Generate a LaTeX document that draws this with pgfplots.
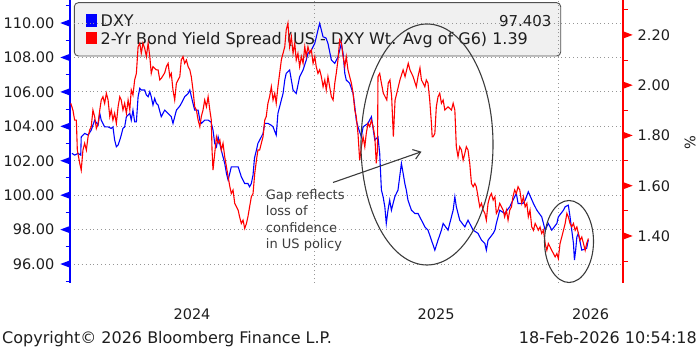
\documentclass[border=0pt]{standalone}
\usepackage{fontspec}
\setmainfont{DejaVu Sans}
\usepackage{pgfplots}
\usepackage{pgfplotstable}
\pgfplotsset{compat=1.18}
\usetikzlibrary{arrows.meta}

\definecolor{bbblue}{RGB}{0,0,255}
\definecolor{bbred}{RGB}{255,0,0}
\definecolor{gridc}{RGB}{150,150,150}
\definecolor{txt}{RGB}{30,30,30}
\definecolor{legfill}{RGB}{240,240,240}
\definecolor{legdraw}{RGB}{80,80,80}
\definecolor{annot}{RGB}{60,60,60}

\pgfplotstableread{
x y
2024.008 102.43
2024.019 102.33
2024.033 102.43
2024.044 102.33
2024.046 103.39
2024.060 103.59
2024.074 103.49
2024.087 103.78
2024.101 104.36
2024.115 104.07
2024.122 104.75
2024.128 104.36
2024.142 103.97
2024.156 103.97
2024.169 103.88
2024.176 103.97
2024.183 103.20
2024.190 102.81
2024.197 102.91
2024.204 103.20
2024.210 103.49
2024.217 103.88
2024.224 103.97
2024.231 104.56
2024.245 104.75
2024.251 104.36
2024.258 104.94
2024.265 104.26
2024.272 104.26
2024.279 105.72
2024.286 106.21
2024.292 106.11
2024.306 106.11
2024.313 105.82
2024.320 105.72
2024.327 106.01
2024.333 105.72
2024.340 105.24
2024.347 105.62
2024.354 105.33
2024.361 105.24
2024.374 104.56
2024.388 104.94
2024.402 104.75
2024.415 104.56
2024.422 104.17
2024.436 104.94
2024.450 105.18
2024.456 105.33
2024.470 105.72
2024.484 105.91
2024.491 106.11
2024.504 105.33
2024.511 104.94
2024.525 104.94
2024.532 104.36
2024.538 104.17
2024.552 104.36
2024.566 104.36
2024.578 104.25
2024.586 103.78
2024.593 103.01
2024.600 102.81
2024.607 103.39
2024.620 102.62
2024.627 102.23
2024.634 101.85
2024.641 101.27
2024.648 100.88
2024.661 101.65
2024.675 101.65
2024.689 101.65
2024.702 101.07
2024.716 100.68
2024.729 100.68
2024.736 100.49
2024.743 100.68
2024.750 101.17
2024.756 102.16
2024.764 102.62
2024.770 103.01
2024.784 103.39
2024.791 103.59
2024.798 104.17
2024.811 104.17
2024.824 104.07
2024.832 103.97
2024.845 103.49
2024.852 104.75
2024.859 105.14
2024.866 105.53
2024.873 105.91
2024.880 106.69
2024.886 107.08
2024.900 107.27
2024.907 106.69
2024.914 106.11
2024.927 105.91
2024.941 106.88
2024.955 107.27
2024.968 107.85
2024.975 108.24
2024.989 108.43
2025.003 108.82
2025.016 109.59
2025.023 109.98
2025.037 109.20
2025.049 109.13
2025.057 108.82
2025.071 107.85
2025.085 107.66
2025.098 108.04
2025.112 108.82
2025.119 108.24
2025.126 107.08
2025.132 106.69
2025.146 106.50
2025.160 105.91
2025.167 105.14
2025.173 104.36
2025.180 103.97
2025.194 103.39
2025.201 103.97
2025.221 104.17
2025.235 104.56
2025.249 103.20
2025.262 103.39
2025.269 102.43
2025.276 100.30
2025.283 99.91
2025.290 99.33
2025.296 98.36
2025.303 99.13
2025.310 99.71
2025.317 99.13
2025.331 99.91
2025.344 100.30
2025.358 101.85
2025.365 101.27
2025.372 100.68
2025.378 100.30
2025.385 99.71
2025.399 99.13
2025.413 98.94
2025.426 98.94
2025.447 98.36
2025.454 98.16
2025.467 97.97
2025.481 97.39
2025.495 96.81
2025.508 97.39
2025.522 97.97
2025.529 98.36
2025.549 97.97
2025.570 99.13
2025.577 99.91
2025.583 99.33
2025.597 98.55
2025.618 98.16
2025.631 98.55
2025.652 97.97
2025.672 97.78
2025.686 97.39
2025.700 97.20
2025.706 96.81
2025.713 97.39
2025.734 97.78
2025.741 97.97
2025.747 98.36
2025.754 98.74
2025.761 99.13
2025.781 98.94
2025.802 99.33
2025.815 99.71
2025.822 99.91
2025.829 100.10
2025.836 99.52
2025.856 99.52
2025.865 99.71
2025.878 100.20
2025.899 99.52
2025.913 99.13
2025.933 98.74
2025.940 98.36
2025.947 97.97
2025.960 98.36
2025.974 97.97
2025.995 98.36
2026.001 98.74
2026.022 99.13
2026.029 99.33
2026.042 99.42
2026.049 98.74
2026.056 97.97
2026.063 97.20
2026.067 96.23
2026.072 96.81
2026.077 97.58
2026.083 97.78
2026.097 96.81
2026.117 96.91
2026.124 97.403
}\dxy

\pgfplotstableread{
x y
2024.003 1.928
2024.012 1.901
2024.019 1.861
2024.026 1.861
2024.030 1.742
2024.040 1.689
2024.046 1.662
2024.053 1.742
2024.060 1.769
2024.067 1.742
2024.074 1.795
2024.081 1.822
2024.087 1.835
2024.094 1.901
2024.101 1.875
2024.108 1.828
2024.115 1.848
2024.122 1.901
2024.128 1.941
2024.135 1.954
2024.142 1.928
2024.149 1.968
2024.156 1.941
2024.163 1.875
2024.169 1.901
2024.176 1.861
2024.183 1.888
2024.190 1.848
2024.197 1.914
2024.204 1.954
2024.210 1.941
2024.217 1.901
2024.224 1.928
2024.231 1.888
2024.238 1.941
2024.245 1.901
2024.251 1.981
2024.258 1.961
2024.265 2.021
2024.272 2.047
2024.279 2.153
2024.286 2.167
2024.292 2.127
2024.299 2.167
2024.306 2.147
2024.313 2.114
2024.320 2.167
2024.327 2.114
2024.333 2.047
2024.340 2.074
2024.347 2.067
2024.354 2.061
2024.361 2.061
2024.368 2.021
2024.374 2.027
2024.388 2.049
2024.395 2.074
2024.402 2.087
2024.409 2.034
2024.415 2.047
2024.422 1.981
2024.429 1.941
2024.436 2.008
2024.443 2.021
2024.450 2.034
2024.456 2.100
2024.463 2.114
2024.470 2.087
2024.477 2.100
2024.484 2.074
2024.491 2.061
2024.497 2.034
2024.504 1.981
2024.511 1.914
2024.518 1.901
2024.525 1.861
2024.532 1.835
2024.538 1.875
2024.545 1.901
2024.552 1.941
2024.559 1.914
2024.566 1.954
2024.573 1.901
2024.579 1.861
2024.582 1.742
2024.586 1.662
2024.593 1.729
2024.600 1.795
2024.607 1.769
2024.614 1.782
2024.620 1.742
2024.627 1.769
2024.634 1.715
2024.641 1.675
2024.648 1.636
2024.655 1.596
2024.661 1.569
2024.668 1.583
2024.675 1.530
2024.682 1.516
2024.689 1.503
2024.695 1.476
2024.702 1.450
2024.709 1.463
2024.716 1.430
2024.723 1.450
2024.729 1.476
2024.736 1.516
2024.743 1.556
2024.750 1.569
2024.757 1.649
2024.764 1.702
2024.770 1.742
2024.777 1.742
2024.784 1.769
2024.791 1.795
2024.798 1.861
2024.804 1.875
2024.811 1.928
2024.818 1.954
2024.825 1.994
2024.832 1.941
2024.839 1.968
2024.845 1.928
2024.852 1.994
2024.859 2.047
2024.866 2.100
2024.873 2.127
2024.880 2.153
2024.886 2.220
2024.893 2.247
2024.900 2.153
2024.907 2.193
2024.914 2.127
2024.921 2.167
2024.927 2.100
2024.934 2.127
2024.941 2.074
2024.948 2.114
2024.955 2.087
2024.962 2.153
2024.968 2.114
2024.975 2.153
2024.982 2.127
2024.989 2.140
2024.996 2.087
2025.003 2.114
2025.009 2.074
2025.016 2.047
2025.023 2.061
2025.030 2.034
2025.037 1.994
2025.044 2.021
2025.050 1.981
2025.057 2.034
2025.064 1.994
2025.071 1.954
2025.078 1.941
2025.085 2.008
2025.091 2.047
2025.098 2.100
2025.105 2.180
2025.112 2.167
2025.119 2.114
2025.126 2.074
2025.132 2.114
2025.139 2.061
2025.146 2.034
2025.153 2.008
2025.160 1.968
2025.167 1.901
2025.173 1.875
2025.180 1.808
2025.187 1.702
2025.194 1.755
2025.201 1.795
2025.208 1.755
2025.214 1.808
2025.221 1.848
2025.228 1.835
2025.235 1.861
2025.242 1.835
2025.249 1.795
2025.255 1.689
2025.260 1.742
2025.262 2.034
2025.269 2.047
2025.276 2.008
2025.284 1.968
2025.298 1.941
2025.304 2.008
2025.311 2.021
2025.318 1.954
2025.325 1.795
2025.332 1.941
2025.339 1.968
2025.352 2.021
2025.365 2.061
2025.373 2.034
2025.386 2.087
2025.393 2.061
2025.406 2.034
2025.419 1.994
2025.426 2.034
2025.434 2.069
2025.440 2.021
2025.447 2.008
2025.454 1.994
2025.460 2.021
2025.467 2.008
2025.474 1.941
2025.481 1.848
2025.484 1.795
2025.488 1.795
2025.495 1.808
2025.501 1.914
2025.508 1.954
2025.515 1.968
2025.522 1.928
2025.529 1.941
2025.536 1.901
2025.549 1.914
2025.563 1.901
2025.570 1.928
2025.577 1.901
2025.583 1.755
2025.590 1.715
2025.597 1.755
2025.604 1.742
2025.611 1.702
2025.618 1.729
2025.624 1.755
2025.631 1.742
2025.638 1.689
2025.645 1.609
2025.652 1.596
2025.659 1.609
2025.665 1.596
2025.672 1.556
2025.679 1.516
2025.686 1.530
2025.693 1.503
2025.700 1.490
2025.706 1.463
2025.713 1.530
2025.720 1.556
2025.727 1.569
2025.734 1.543
2025.741 1.556
2025.747 1.490
2025.754 1.503
2025.761 1.530
2025.768 1.516
2025.775 1.503
2025.781 1.476
2025.788 1.503
2025.795 1.463
2025.802 1.503
2025.809 1.516
2025.815 1.556
2025.822 1.583
2025.829 1.569
2025.836 1.596
2025.843 1.583
2025.851 1.530
2025.858 1.556
2025.865 1.516
2025.872 1.530
2025.878 1.476
2025.885 1.503
2025.892 1.436
2025.899 1.423
2025.906 1.450
2025.913 1.436
2025.919 1.423
2025.926 1.436
2025.933 1.410
2025.940 1.423
2025.947 1.370
2025.954 1.343
2025.960 1.370
2025.967 1.357
2025.974 1.343
2025.981 1.330
2025.988 1.317
2025.995 1.330
2026.001 1.310
2026.008 1.370
2026.015 1.396
2026.022 1.423
2026.029 1.450
2026.036 1.490
2026.042 1.476
2026.049 1.450
2026.056 1.436
2026.063 1.450
2026.070 1.423
2026.077 1.436
2026.083 1.410
2026.090 1.383
2026.097 1.396
2026.104 1.370
2026.111 1.343
2026.117 1.370
2026.124 1.390
}\spread

\newcommand{\ticksize}{\fontsize{14.5}{16}\selectfont}
\newcommand{\legsize}{\fontsize{15}{17}\selectfont}
\newcommand{\legsizeb}{\fontsize{16}{18}\selectfont}

\begin{document}
\begin{tikzpicture}[x=1pt,y=1pt]
\useasboundingbox (0,0) rectangle (700,350);

% legend box (behind the plot lines, as in the original)
\draw[legdraw, fill=legfill, rounded corners=4pt, line width=0.9pt] (74.3,294) rectangle (560.7,347.3);
\fill[bbblue] (86,323.3) rectangle (97,335.7);
\fill[bbred] (86,305.5) rectangle (97,317.8);
\node[anchor=base west, inner sep=0pt, text=txt, font=\legsizeb] at (100.5,323.3) {DXY};
\node[anchor=base east, inner sep=0pt, text=txt, font=\legsize] at (551.7,323.3) {97.403};
\node[anchor=base west, inner sep=0pt, text=txt, font=\legsizeb] at (100.5,305.2) {2-Yr Bond Yield Spread (US - DXY Wt. Avg of G6) 1.39};

\begin{axis}[
  at={(70pt,67pt)}, anchor=south west,
  scale only axis, width=553pt, height=283pt,
  xmin=2024, xmax=2026.266,
  ymin=94.9, ymax=111.34,
  axis y line*=left, axis x line*=bottom,
  x axis line style={draw=none},
  y axis line style={bbblue, line width=1.5pt},
  xtick={2025,2026}, xticklabels={,},
  extra x ticks={2024.5,2025.5,2026.133},
  extra x tick labels={2024,2025,2026},
  extra x tick style={grid=none, major tick length=0pt},
  xtick style={draw=none},
  xticklabel style={font=\ticksize, text=txt, yshift=-22pt},
  xmajorgrids, ymajorgrids,
  grid style={gridc, line width=0.9pt, dash pattern=on 0.9pt off 3pt},
  ytick={96,98,100,102,104,106,108,110},
  minor ytick={95,97,99,101,103,105,107,109,111},
  tick align=outside,
  major tick length=0pt, minor tick length=4.5pt,
  ytick style={bbblue, line width=1pt},
  /pgf/number format/assume math mode=true,
  yticklabel={\pgfmathprintnumber[fixed,fixed zerofill,precision=2]{\tick}\hspace{6pt}\tikz[baseline=0pt]\fill[bbblue] (0pt,5.3pt)--(9.5pt,8.9pt)--(9.5pt,1.7pt)--cycle;},
  yticklabel style={anchor=east, inner xsep=0pt, font=\ticksize, text=txt},
]
\addplot[bbblue, line width=1.1pt] table[x=x, y=y] {\dxy};
\end{axis}

\begin{axis}[
  at={(70pt,67pt)}, anchor=south west,
  scale only axis, width=553pt, height=283pt,
  xmin=2024, xmax=2026.266,
  ymin=1.213, ymax=2.339,
  axis y line*=right, axis x line=none,
  y axis line style={bbred, line width=1.5pt},
  xtick=\empty,
  ytick={1.4,1.6,1.8,2.0,2.2},
  minor ytick={1.3,1.5,1.7,1.9,2.1,2.3},
  tick align=outside,
  major tick length=0pt, minor tick length=5pt,
  ytick style={bbred, line width=1pt},
  /pgf/number format/assume math mode=true,
  yticklabel={\tikz[baseline=0pt]\fill[bbred] (0pt,1.7pt)--(0pt,8.9pt)--(9.5pt,5.3pt)--cycle;\hspace{5pt}\pgfmathprintnumber[fixed,fixed zerofill,precision=2]{\tick}},
  yticklabel style={anchor=west, inner xsep=0pt, font=\ticksize, text=txt},
]
\addplot[bbred, line width=1.1pt] table[x=x, y=y] {\spread};
\end{axis}

% unit label of the right axis
\node[rotate=90, text=txt, font=\ticksize] at (690,207) {\%};

% annotations
\draw[annot, line width=1.1pt] (427,205.5) ellipse (66pt and 120.5pt);
\draw[annot, line width=1.1pt] (569,108.5) ellipse (24.5pt and 41pt);
\draw[annot, line width=1.1pt, -{Straight Barb[length=7pt, width=10pt]}] (333,167.5) -- (421.5,198.3);
\begin{scope}[every node/.style={anchor=base west, inner sep=0pt, text=annot, font=\fontsize{13}{15}\selectfont}]
\node at (265.7,150) {Gap reflects};
\node at (265.7,134) {loss of};
\node at (265.7,117.7) {confidence};
\node at (265.7,101.7) {in US policy};
\end{scope}

% footer
\node[anchor=base west, inner sep=0pt, text=txt, font=\fontsize{16}{18}\selectfont] at (2,6) {Copyright© 2026 Bloomberg Finance L.P.};
\node[anchor=base east, inner sep=0pt, text=txt, font=\fontsize{16}{18}\selectfont] at (697,6) {18-Feb-2026 10:54:18};
\end{tikzpicture}
\end{document}
